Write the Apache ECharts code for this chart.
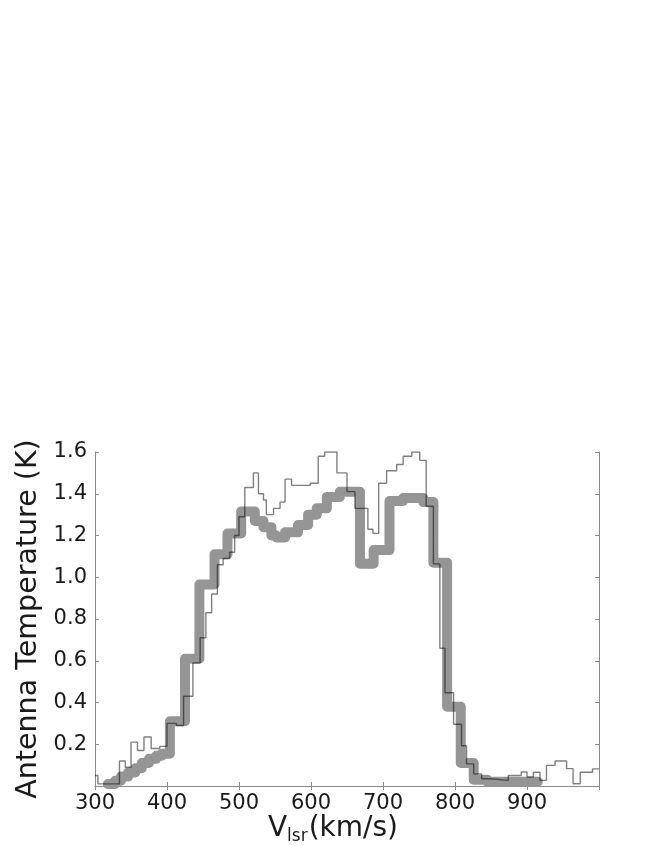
<!DOCTYPE html>
<html>
<head>
<meta charset="utf-8">
<script src="https://cdn.jsdelivr.net/npm/echarts@6/dist/echarts.min.js"></script>
<style>
html,body{margin:0;padding:0;background:#fff;}
#c{width:654px;height:846px;}
</style>
</head>
<body>
<div id="c"></div>
<script>
// Thin spectrum: left channel edge (km/s) and antenna temperature (K); last entry closes the final step
const thinV = [300, 304, 334, 342, 350, 359, 368, 378, 390, 400, 413, 423, 436, 446, 454, 462, 470, 478, 487, 494, 500, 508, 520, 527, 534, 538, 548, 557, 564, 573, 599, 610, 619, 636, 650, 661, 679, 686, 694, 705, 719, 728, 740, 751, 760, 770, 779, 786, 798, 809, 816, 826, 837, 849, 874, 892, 900, 909, 918, 927, 939, 955, 964, 974, 991, 1000];
const thinT = [0.05, 0.01, 0.12, 0.09, 0.21, 0.17, 0.235, 0.18, 0.19, 0.30, 0.29, 0.43, 0.59, 0.71, 0.83, 0.92, 1.06, 1.09, 1.12, 1.20, 1.29, 1.43, 1.50, 1.40, 1.37, 1.30, 1.33, 1.36, 1.47, 1.44, 1.45, 1.58, 1.60, 1.50, 1.41, 1.33, 1.23, 1.21, 1.45, 1.51, 1.54, 1.58, 1.60, 1.56, 1.34, 1.064, 0.66, 0.447, 0.296, 0.193, 0.106, 0.058, 0.035, 0.027, 0.05, 0.067, 0.043, 0.066, 0.027, 0.099, 0.12, 0.083, 0.011, 0.066, 0.082, 0.082];

// Thick (smoothed) spectrum
const bandV = [318, 328, 336, 346, 356, 365, 375, 385, 393, 404, 425, 445, 466, 484, 503, 522, 534, 545, 552, 564, 582, 596, 608, 622, 640, 668, 687, 709, 728, 756, 770, 789, 808, 826, 845, 915];
const bandT = [0.01, 0.025, 0.045, 0.065, 0.085, 0.11, 0.13, 0.145, 0.155, 0.31, 0.61, 0.965, 1.11, 1.21, 1.315, 1.27, 1.24, 1.20, 1.19, 1.215, 1.25, 1.30, 1.33, 1.385, 1.41, 1.065, 1.13, 1.365, 1.38, 1.36, 1.07, 0.38, 0.11, 0.03, 0.02, 0.02];

const xTicks = {min: 300, max: 1000, interval: 100};
const yTicks = {min: 0, max: 1.6, interval: 0.2};

const pair = (xs, ys) => xs.map((x, i) => [x, ys[i]]);

const FONT = 'DejaVu Sans';
const axisGray = '#8a8a8a';

const chart = echarts.init(document.getElementById('c'), null, {renderer: 'canvas'});

const baseX = {
  type: 'value', min: xTicks.min, max: xTicks.max, interval: xTicks.interval,
  splitLine: {show: false},
  axisLine: {show: true, lineStyle: {color: axisGray, width: 1}},
  axisTick: {show: true, inside: true, length: 4, lineStyle: {color: axisGray}}
};
const baseY = {
  type: 'value', min: yTicks.min, max: yTicks.max, interval: yTicks.interval,
  splitLine: {show: false},
  axisLine: {show: true, lineStyle: {color: axisGray, width: 1}},
  axisTick: {show: true, inside: true, length: 4, lineStyle: {color: axisGray}}
};

chart.setOption({
  animation: false,
  backgroundColor: '#ffffff',
  grid: {left: 95, right: 55, top: 452, bottom: 57, containLabel: false},
  xAxis: [
    Object.assign({}, baseX, {
      position: 'bottom',
      axisLabel: {show: true, fontSize: 21, color: '#1a1a1a', fontFamily: FONT, margin: 7, showMaxLabel: false},
      name: '{v|V}{s|lsr}{v|(km/s)}',
      nameLocation: 'middle',
      nameGap: 27,
      nameTextStyle: {
        padding: [0, 28, 0, 0],
        rich: {
          v: {fontSize: 28, color: '#1a1a1a', fontFamily: FONT, lineHeight: 32},
          s: {fontSize: 17, color: '#1a1a1a', fontFamily: FONT, verticalAlign: 'bottom', padding: [12, 1, 0, 0], lineHeight: 32}
        }
      }
    }),
    Object.assign({}, baseX, {position: 'top', axisLabel: {show: false}})
  ],
  yAxis: [
    Object.assign({}, baseY, {
      position: 'left',
      axisLabel: {show: true, fontSize: 21, color: '#1a1a1a', fontFamily: FONT, margin: 8, showMinLabel: false,
        formatter: v => v.toFixed(1)},
      name: 'Antenna Temperature (K)',
      nameLocation: 'middle',
      nameGap: 48,
      nameTextStyle: {fontSize: 28.5, color: '#1a1a1a', fontFamily: FONT}
    }),
    Object.assign({}, baseY, {position: 'right', axisLabel: {show: false}})
  ],
  series: [
    {
      type: 'line', step: 'end', symbol: 'none', z: 2,
      data: pair(bandV, bandT),
      lineStyle: {width: 10, color: '#959595', cap: 'round', join: 'round'}
    },
    {
      type: 'line', step: 'end', symbol: 'none', z: 3,
      data: pair(thinV, thinT),
      lineStyle: {width: 1.4, color: 'rgba(0,0,0,0.5)'}
    }
  ]
});
</script>
</body>
</html>
